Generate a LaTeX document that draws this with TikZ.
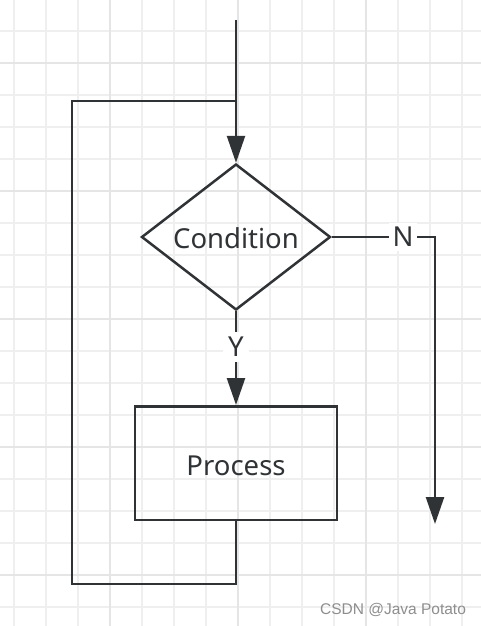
\documentclass[tikz,border=0pt]{standalone}
\usepackage{fontspec}
\setmainfont{Noto Sans}
\newfontfamily\wmfont{Liberation Sans}
\usetikzlibrary{shapes.geometric,arrows.meta}
\definecolor{ink}{HTML}{303336}
\definecolor{gridminor}{HTML}{EFEFEF}
\definecolor{gridmajor}{HTML}{E5E5E5}
\definecolor{wm}{HTML}{8E8E8E}
\tikzset{
  flow/.style={draw=ink, line width=2.5pt},
  arrowline/.style={flow, -{Triangle[length=27pt,width=18pt]}},
  txt/.style={font=\fontsize{27.5}{30}\selectfont, text=ink, inner sep=1pt},
  lbl/.style={txt, fill=white, inner sep=5pt},
}
\begin{document}
\begin{tikzpicture}[x=1pt,y=-1pt]
\useasboundingbox (0,0) rectangle (481,626);
\fill[white] (0,0) rectangle (481,626);
% grid
\foreach \gx in {14,46,...,478} \draw[gridminor, line width=1.8pt] (\gx,0) -- (\gx,626);
\foreach \gy in {-1,31,...,626} \draw[gridminor, line width=1.8pt] (0,\gy) -- (481,\gy);
\foreach \gx in {110,238,366} \draw[gridmajor, line width=1.8pt] (\gx,0) -- (\gx,626);
\foreach \gy in {63,191,319,447,575} \draw[gridmajor, line width=1.8pt] (0,\gy) -- (481,\gy);
% shapes
\node[diamond, flow, minimum width=189pt, minimum height=146pt, inner sep=0pt] (cond) at (236,237) {};
\node[txt] (condtxt) at (236,238) {Condition};
\node[rectangle, flow, minimum width=202pt, minimum height=113.5pt, inner sep=0pt] (proc) at (236,463) {};
\node[txt] (proctxt) at (236,466) {Process};
% coordinates
\coordinate (start) at (236,20);
\coordinate (mt) at (236,101);
\coordinate (lt) at (72,101);
\coordinate (lb) at (72,584);
\coordinate (nright) at (435,237);
\coordinate (nend) at (435,524);
% connectors
\draw[arrowline] (start) -- (cond.north);
\draw[flow, line join=miter] (proc.south) -- (proc.south |- lb) -- (lb) -- (lt) -- (mt);
\draw[arrowline] (cond.south) -- node[lbl, pos=0.38] (ylbl) {Y} (proc.north);
\draw[arrowline, line join=miter] (cond.east) -- node[lbl, pos=0.69, inner sep=4pt] (nlbl) {N} (nright) -- (nend);
% watermark
\node[font=\wmfont\fontsize{15.5}{17}\selectfont, text=wm, inner sep=0pt] (mark) at (393,610) {CSDN @Java Potato};
\end{tikzpicture}
\end{document}
